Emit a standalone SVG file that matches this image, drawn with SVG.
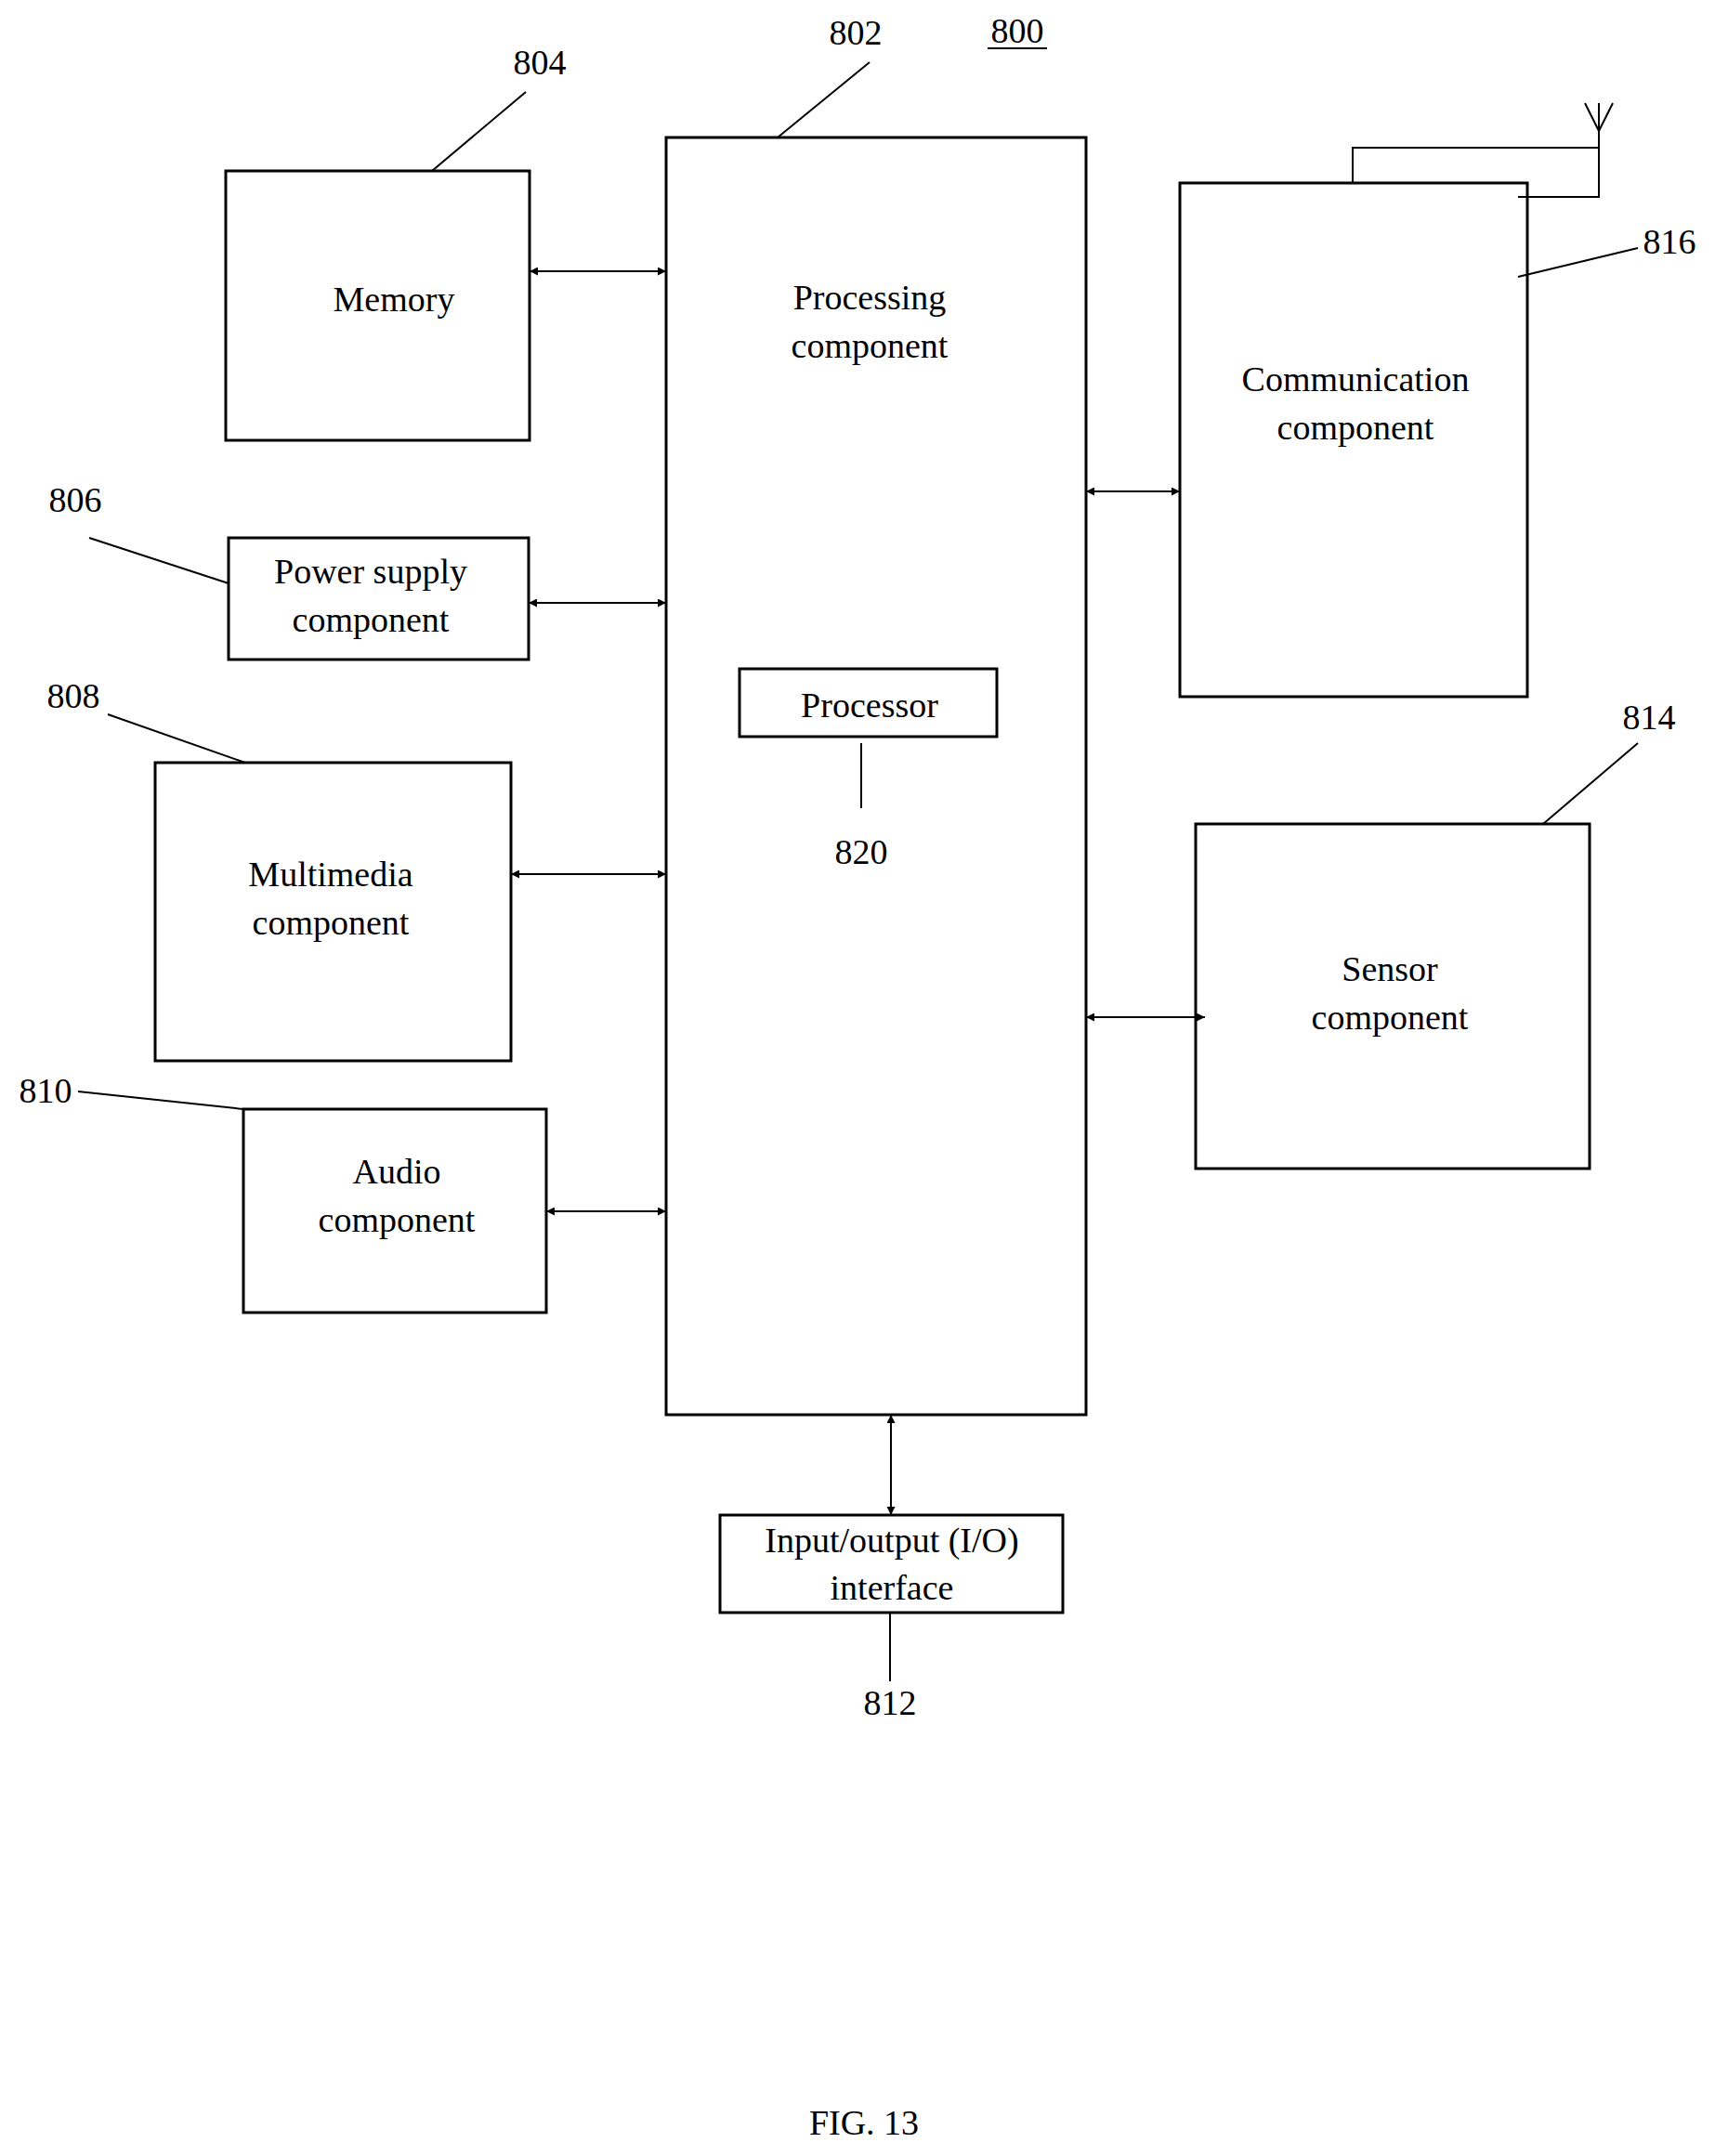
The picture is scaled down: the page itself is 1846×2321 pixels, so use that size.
<svg xmlns="http://www.w3.org/2000/svg" width="1846" height="2321" viewBox="0 0 1846 2321">
<style>
.b{fill:none;stroke:#000;stroke-width:3}
.l{fill:none;stroke:#000;stroke-width:2}
text{font-family:"Liberation Serif",serif;font-size:38px;fill:#000;text-anchor:middle}
</style>
<defs>
<marker id="a" viewBox="0 0 10 10" refX="10" refY="5" markerWidth="9" markerHeight="9" markerUnits="userSpaceOnUse" orient="auto-start-reverse"><path d="M0,0L10,5L0,10z"/></marker>
</defs>
<rect width="1846" height="2321" fill="#fff"/>
<g id="processing"><rect class="b" x="717" y="148" width="452" height="1375"/><text x="936" y="333">Processing</text><text x="936" y="385">component</text>
<line class="l" x1="837" y1="148" x2="936" y2="67"/><text x="921" y="48">802</text></g>
<g id="processor"><rect class="b" x="796" y="720" width="277" height="73"/><text x="936" y="772">Processor</text><line class="l" x1="927" y1="800" x2="927" y2="870"/><text x="927" y="930">820</text></g>
<g id="memory"><rect class="b" x="243" y="184" width="327" height="290"/><text x="424" y="335">Memory</text><line class="l" x1="465" y1="184" x2="566" y2="99"/><text x="581" y="80">804</text></g>
<g id="power"><rect class="b" x="246" y="579" width="323" height="131"/><text x="399" y="628">Power supply</text><text x="399" y="680">component</text><line class="l" x1="246" y1="628" x2="96" y2="579"/><text x="81" y="551">806</text></g>
<g id="multimedia"><rect class="b" x="167" y="821" width="383" height="321"/><text x="356" y="954">Multimedia</text><text x="356" y="1006">component</text><line class="l" x1="264" y1="821" x2="116" y2="769"/><text x="79" y="762">808</text></g>
<g id="audio"><rect class="b" x="262" y="1194" width="326" height="219"/><text x="427" y="1274">Audio</text><text x="427" y="1326">component</text><line class="l" x1="262" y1="1194" x2="84" y2="1175"/><text x="49" y="1187">810</text></g>
<g id="communication"><rect class="b" x="1270" y="197" width="374" height="553"/><text x="1459" y="421">Communication</text><text x="1459" y="473">component</text>
<polyline class="l" points="1456,197 1456,159 1721,159 1721,212 1634,212"/><polyline class="l" points="1721,159 1721,111"/><polyline class="l" points="1706,111 1721,141 1736,111"/>
<line class="l" x1="1634" y1="298" x2="1763" y2="267"/><text x="1797" y="273">816</text></g>
<g id="sensor"><rect class="b" x="1287" y="887" width="424" height="371"/><text x="1496" y="1056">Sensor</text><text x="1496" y="1108">component</text><line class="l" x1="1661" y1="887" x2="1763" y2="800"/><text x="1775" y="785">814</text></g>
<g id="io"><rect class="b" x="775" y="1631" width="369" height="105"/><text x="960" y="1671">Input/output (I/O)</text><text x="960" y="1722">interface</text><line class="l" x1="958" y1="1736" x2="958" y2="1810"/><text x="958" y="1846">812</text></g>
<g id="connectors">
<line class="l" x1="570" y1="292" x2="717" y2="292" marker-start="url(#a)" marker-end="url(#a)"/>
<line class="l" x1="569" y1="649" x2="717" y2="649" marker-start="url(#a)" marker-end="url(#a)"/>
<line class="l" x1="550" y1="941" x2="717" y2="941" marker-start="url(#a)" marker-end="url(#a)"/>
<line class="l" x1="588" y1="1304" x2="717" y2="1304" marker-start="url(#a)" marker-end="url(#a)"/>
<line class="l" x1="1169" y1="529" x2="1270" y2="529" marker-start="url(#a)" marker-end="url(#a)"/>
<line class="l" x1="1169" y1="1095" x2="1297" y2="1095" marker-start="url(#a)" marker-end="url(#a)"/>
<line class="l" x1="959" y1="1523" x2="959" y2="1631" marker-start="url(#a)" marker-end="url(#a)"/>
</g>
<text x="1095" y="46">800</text><line class="l" x1="1063" y1="52" x2="1127" y2="52"/>
<text x="930" y="2298">FIG. 13</text>
</svg>
